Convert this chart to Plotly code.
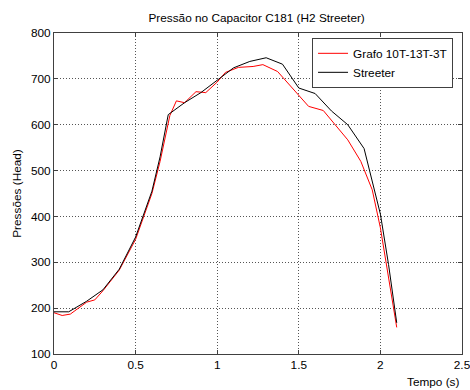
import plotly.graph_objects as go

# Streeter curve
t_streeter = [0.0, 0.05, 0.09, 0.2, 0.3, 0.4, 0.5, 0.6, 0.65, 0.7, 0.8, 0.9, 1.0,
              1.1, 1.2, 1.3, 1.4, 1.5, 1.6, 1.7, 1.8, 1.9, 2.0, 2.05, 2.1]
p_streeter = [192, 192, 192, 215, 240, 285, 355, 455, 530, 622, 648, 670, 698,
              724, 738, 746, 732, 680, 668, 630, 600, 548, 405, 295, 168]

# Graph-method curve
t_grafo = [0.0, 0.05, 0.1, 0.2, 0.25, 0.3, 0.4, 0.5, 0.6, 0.65, 0.71, 0.75, 0.8,
           0.87, 0.93, 1.0, 1.05, 1.13, 1.22, 1.28, 1.37, 1.5, 1.56, 1.65, 1.73,
           1.8, 1.88, 1.95, 2.0, 2.05, 2.1]
p_grafo = [190, 184, 187, 213, 218, 238, 283, 350, 450, 520, 620, 652, 648,
           672, 670, 693, 714, 725, 727, 731, 716, 665, 640, 631, 596,
           567, 520, 458, 375, 270, 158]

x_ticks = [0, 0.5, 1, 1.5, 2, 2.5]
x_tick_text = ["0", "0.5", "1", "1.5", "2", "2.5"]
y_ticks = [100, 200, 300, 400, 500, 600, 700, 800]

font = dict(family="Liberation Sans, Arial, sans-serif", size=11.8, color="#000000")

fig = go.Figure()
fig.add_trace(go.Scatter(x=t_grafo, y=p_grafo, mode="lines", name="Grafo 10T-13T-3T",
                         line=dict(color="#ff0000", width=1)))
fig.add_trace(go.Scatter(x=t_streeter, y=p_streeter, mode="lines", name="Streeter",
                         line=dict(color="#000000", width=1)))

axis_common = dict(showline=True, mirror="ticks", linecolor="#404040", linewidth=1,
                   showgrid=True, gridcolor="#555555", griddash="1px,2px", gridwidth=1,
                   ticks="inside", ticklen=4, tickcolor="#404040",
                   zeroline=False, tickfont=font, automargin=False,
                   ticklabeloverflow="allow")

fig.update_layout(
    width=470, height=390,
    margin=dict(l=54, r=8, t=33, b=36),
    paper_bgcolor="#ffffff", plot_bgcolor="#ffffff",
    font=font,
    title=dict(text="Pressão no Capacitor C181 (H2 Streeter)", x=0.546, xanchor="center",
               y=0.953, yanchor="middle", font=font),
    xaxis=dict(range=[0, 2.5], tickvals=x_ticks, ticktext=x_tick_text, **axis_common),
    yaxis=dict(range=[100, 800], tickvals=y_ticks,
               title=dict(text="Pressões (Head)", font=font, standoff=6), **axis_common),
    legend=dict(x=0.978, y=0.985, xanchor="right", yanchor="top",
                bgcolor="#ffffff", bordercolor="#404040", borderwidth=1,
                font=font, tracegroupgap=0),
    showlegend=True,
)
fig.add_annotation(text="Tempo (s)", xref="paper", yref="paper", x=1.0, y=-0.058,
                   xanchor="right", yanchor="top", showarrow=False, font=font)

fig.write_html("out.html")
